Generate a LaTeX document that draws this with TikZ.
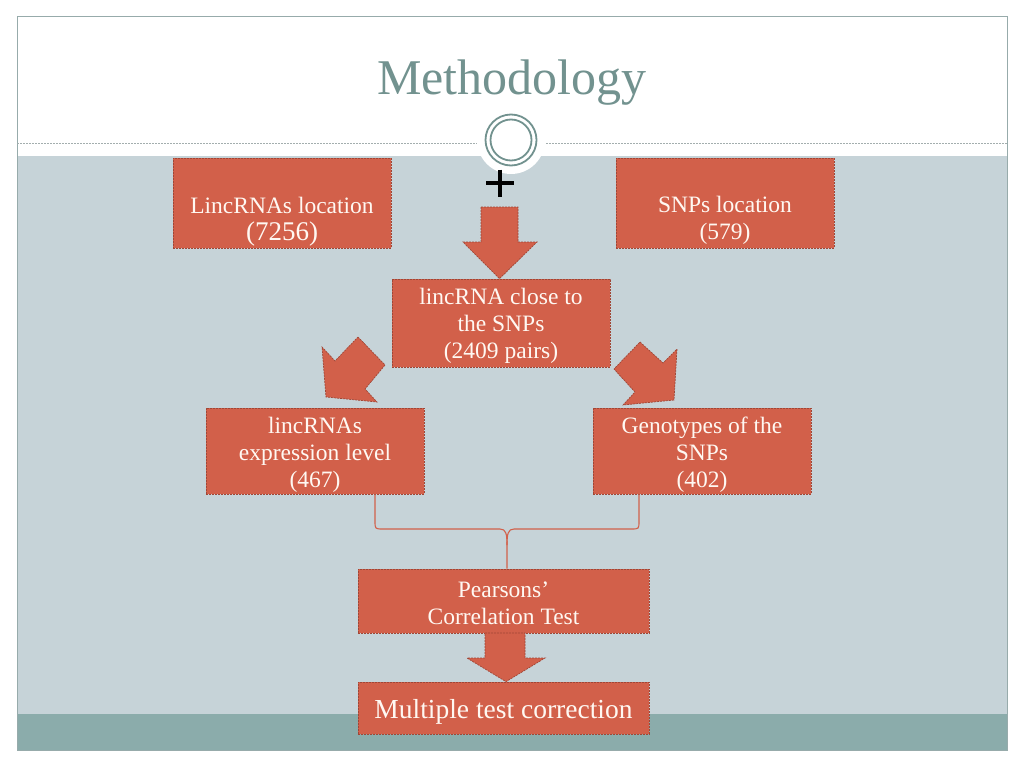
\documentclass[tikz,border=0pt]{standalone}
\usepackage{fontspec}
\setmainfont{Liberation Serif}
\usetikzlibrary{calc}
\definecolor{bgray}{HTML}{C6D3D8}
\definecolor{band}{HTML}{8BACAB}
\definecolor{frame}{HTML}{97ABAB}
\definecolor{titlec}{HTML}{72928F}
\definecolor{boxred}{HTML}{D2604A}
\definecolor{boxedge}{HTML}{A04636}
\definecolor{dashc}{HTML}{A3AEAE}
\definecolor{txtc}{HTML}{FFF8F2}
\begin{document}
\begin{tikzpicture}[x=1pt,y=-1pt,
  box/.style={fill=boxred, draw=boxedge, dash pattern=on 2pt off 1pt, line width=0.7pt, inner sep=0pt},
  txt/.style={text=txtc, align=center, inner sep=0pt, font=\fontsize{23.5}{27}\selectfont},
  conn/.style={draw=boxred, line width=1.1pt}]
\useasboundingbox (0,0) rectangle (1024,768);
\fill[white] (0,0) rectangle (1024,768);
% slide background
\fill[bgray] (17,156) rectangle (1007,714);
\fill[band] (17,714) rectangle (1007,750);
\draw[frame, line width=1pt] (17,17) rectangle (1007,750);
\draw[dashc, line width=0.8pt, dash pattern=on 2pt off 1pt] (17,143) -- (480,143);
\draw[dashc, line width=0.8pt, dash pattern=on 2pt off 1pt] (543,143) -- (1007,143);
% title
\node[anchor=base, text=titlec, inner sep=0pt, font=\fontsize{50}{55}\selectfont] (title) at (512,94) {Methodology};
% ornament
\fill[white] (511,140) circle[radius=34];
\draw[titlec, line width=1.8pt] (511,140) circle[radius=25.5];
\draw[titlec, line width=1.8pt] (511,140) circle[radius=20.5];
\draw[black, line width=3.5pt] (486,183) -- (514,183);
\draw[black, line width=3.5pt] (500,169.5) -- (500,196.5);
% boxes
\node[box, minimum width=218pt, minimum height=90pt] (lin) at (282,203) {};
\node[box, minimum width=218pt, minimum height=90pt] (snp) at (725,203) {};
\node[box, minimum width=218pt, minimum height=88pt] (mid) at (501,323) {};
\node[box, minimum width=218pt, minimum height=86pt] (exp) at (315,451) {};
\node[box, minimum width=218pt, minimum height=86pt] (gen) at (702,451) {};
\node[box, minimum width=291pt, minimum height=64pt] (pear) at (503.5,601) {};
\node[box, minimum width=291pt, minimum height=52pt] (mult) at (503.5,708) {};
% texts
\node[txt] (linT) at (282,221.5) {LincRNAs location\\[0pt]{\fontsize{27}{27}\selectfont (7256)}};
\node[txt] (snpT) at (725,220) {SNPs location\\(579)};
\node[txt] (midT) at (501,326) {lincRNA close to\\the SNPs\\(2409 pairs)};
\node[txt] (expT) at (315,454.5) {lincRNAs\\expression level\\(467)};
\node[txt] (genT) at (702,454.5) {Genotypes of the\\SNPs\\(402)};
\node[txt] (pearT) at (503.5,603.5) {Pearsons’\\Correlation Test};
\node[txt, font=\fontsize{27.5}{30}\selectfont] (multT) at (503.5,711.5) {Multiple test correction};
% block arrows
\draw[box] (481,207) -- (518,207) -- (518,242) -- (537,242) -- ($(mid.north)+(-1.5,0)$) -- (463,242) -- (481,242) -- cycle;
\draw[box] (358,337) -- (385,365) -- (365,389) -- (377,402) -- (326,397) -- (322,347) -- (335,361) -- cycle;
\draw[box] (640,342) -- (663,363) -- (677,349) -- (674,400) -- (623,405) -- (635,392) -- (614,369) -- cycle;
\draw[box] (485,633) -- (525,633) -- (525,658) -- (545,658) -- ($(mult.north)+(2.5,0)$) -- (467,658) -- (485,658) -- cycle;
% brace connector
\coordinate (bt) at ($(pear.north)+(3.5,0)$);
\draw[conn] ($(exp.south)+(60,0)$) -- (375,521) .. controls (375,529) .. (383,529) -- (500,529) .. controls (506,529) and (507,534) .. (507,545) -- (bt);
\draw[conn] ($(gen.south)+(-63,0)$) -- (639,521) .. controls (639,529) .. (631,529) -- (514,529) .. controls (508,529) and (507,534) .. (507,545);
\end{tikzpicture}
\end{document}
